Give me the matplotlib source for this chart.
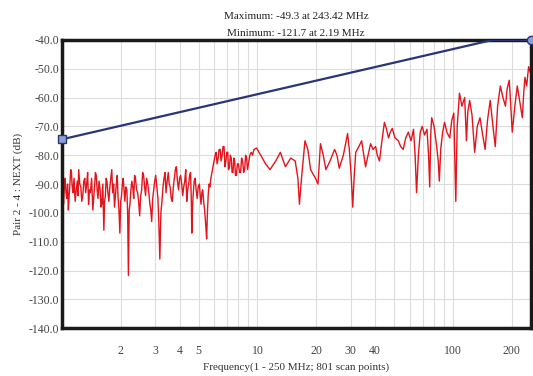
import numpy as np
import matplotlib.pyplot as plt
from matplotlib.ticker import FixedLocator, NullFormatter, NullLocator

plt.rcParams['font.family'] = ['Liberation Serif', 'DejaVu Serif']

# 측정값 (주파수 MHz, NEXT dB)
freq = [1.00, 1.01, 1.02, 1.03, 1.04, 1.05, 1.06, 1.07, 1.08, 1.09, 1.10, 1.11, 1.12, 1.13, 1.14,
        1.155, 1.17, 1.185, 1.20, 1.21, 1.22, 1.235, 1.25, 1.265, 1.28, 1.295, 1.31, 1.325, 1.34, 1.355,
        1.37, 1.385, 1.40, 1.42, 1.44, 1.455, 1.47, 1.485, 1.50, 1.515, 1.53, 1.55, 1.57, 1.585, 1.60,
        1.62, 1.64, 1.655, 1.67, 1.685, 1.70, 1.72, 1.74, 1.76, 1.78, 1.80, 1.82, 1.84, 1.86, 1.88,
        1.90, 1.92, 1.94, 1.96, 1.98, 2.00, 2.02, 2.04, 2.06, 2.08, 2.10, 2.125, 2.15, 2.17, 2.19,
        2.21, 2.23, 2.255, 2.28, 2.305, 2.33, 2.355, 2.38, 2.41, 2.44, 2.47, 2.50, 2.53, 2.56, 2.59,
        2.62, 2.65, 2.68, 2.715, 2.75, 2.785, 2.82, 2.85, 2.88, 2.915, 2.95, 2.985, 3.02, 3.06, 3.10,
        3.135, 3.17, 3.21, 3.25, 3.29, 3.33, 3.37, 3.41, 3.455, 3.50, 3.54, 3.58, 3.625, 3.67, 3.715,
        3.76, 3.805, 3.85, 3.90, 3.95, 4.00, 4.05, 4.10, 4.15, 4.20, 4.25, 4.30, 4.35, 4.40, 4.45,
        4.50, 4.55, 4.59, 4.62, 4.66, 4.70, 4.75, 4.80, 4.86, 4.92, 4.98, 5.05, 5.10, 5.15, 5.20,
        5.25, 5.31, 5.37, 5.44, 5.50, 5.55, 5.60, 5.66, 5.72, 5.78, 5.85, 5.92, 6.0, 6.08, 6.15,
        6.22, 6.3, 6.37, 6.45, 6.52, 6.6, 6.67, 6.75, 6.82, 6.9, 6.97, 7.05, 7.12, 7.2, 7.27,
        7.35, 7.42, 7.5, 7.57, 7.65, 7.72, 7.8, 7.9, 8.0, 8.1, 8.2, 8.3, 8.4, 8.5, 8.6,
        8.7, 8.8, 8.9, 9.0, 9.15, 9.3, 9.45, 9.6, 9.9, 10.2, 10.6,
        11.0, 11.6, 12.4, 13.1, 13.9, 14.8, 15.6, 16.1, 16.4, 16.8, 17.5, 18.1, 18.7, 19.8, 20.4,
        21.0, 21.7, 22.4, 23.5, 24.8, 25.5, 26.2, 27.5, 28.9, 29.5, 30.2, 30.7, 31.2, 31.8, 33.0,
        34.1, 35.0, 35.7, 36.8, 37.9, 39.0, 40.2, 41.0, 42.1, 43.3, 44.6, 45.7, 46.8, 47.8, 48.9,
        50.5, 52.5, 54.0, 55.6, 57.3, 59.1, 61.0, 62.8, 64.0, 65.1, 66.5, 68.0, 69.6, 71.5, 73.6,
        75.0, 76.0, 77.0, 77.8, 80.0, 82.5, 84.0, 85.1, 86.5, 88.5, 90.5, 93.0, 96.2, 98.5, 100.9,
        102.0, 103.3, 105.0, 107.9, 111.0, 114.7, 116.0, 117.1, 119.0, 121.6, 125.0, 129.0, 133.0, 137.4, 141.0,
        145.9, 150.0, 154.9, 160.0, 164.4, 169.0, 174.5, 180.0, 185.4, 189.0, 193.8, 197.0, 200.8, 207.0, 213.1,
        220.0, 226.1, 230.0, 233.3, 238.0, 243.42, 250.0]
next_db = [-92, -88, -97, -91, -88, -93, -95, -90, -99, -94, -90, -85, -86, -91, -93,
           -88, -96, -92, -89, -94, -85, -90, -91, -96, -94, -89, -88, -93, -90, -86,
           -97, -92, -93, -88, -99, -95, -91, -86, -87, -92, -95, -89, -92, -98, -97,
           -90, -106, -96, -94, -88, -89, -93, -96, -91, -88, -85, -93, -90, -98, -94,
           -90, -87, -95, -99, -107, -96, -94, -90, -88, -92, -96, -91, -92, -100, -121.7,
           -99, -97, -92, -89, -91, -95, -87, -88, -92, -93, -96, -101, -94, -92, -86,
           -87, -91, -94, -88, -90, -93, -97, -99, -103, -95, -92, -89, -87, -91, -95,
           -104, -116, -100, -96, -91, -88, -86, -93, -89, -86, -90, -91, -95, -96, -91,
           -88, -85, -84, -89, -92, -88, -87, -90, -94, -91, -89, -85, -96, -92, -90,
           -87, -86, -95, -107, -98, -93, -89, -88, -92, -95, -91, -90, -94, -97, -93,
           -92, -96, -99, -104, -109, -100, -94, -90, -91, -88, -86, -84, -82, -80, -79,
           -83, -81, -78, -78, -82, -80, -77, -77, -84, -82, -79, -79, -85, -84, -80,
           -81, -86, -86, -81, -82, -87, -87, -83, -83, -86, -86, -81, -82, -86, -85,
           -80, -81, -85, -83, -80, -79, -80, -78, -77.5, -79, -81,
           -83, -85, -82, -79, -84, -81, -82, -88, -97, -88, -75, -78, -85, -88, -90,
           -76, -80, -85, -82, -78, -80, -84.5, -80, -72.5, -78, -88, -98, -88, -79, -77,
           -75, -80, -84, -80, -76, -78, -77, -80, -82, -75, -68.6, -71, -74, -72, -70.7,
           -74, -75, -77, -78, -74, -72, -75, -71, -80, -93, -80, -72, -70, -73, -71,
           -80, -91, -72, -67, -70, -77, -82, -89, -78, -72, -68.6, -72, -74, -68, -65.4,
           -80, -96, -70, -58.5, -63, -60, -68, -75, -65, -61, -66, -79, -70, -67, -72,
           -78, -68, -61, -70, -77, -63, -56, -60, -63, -57, -54, -62, -72, -63, -56,
           -62, -67, -58, -53, -56, -49.3, -52]

# 한계선
limit_freq = [1, 160, 250]
limit_db = [-74.5, -40, -40]

yticks = [-40, -50, -60, -70, -80, -90, -100, -110, -120, -130, -140]
xticks = [2, 3, 4, 5, 10, 20, 30, 40, 100, 200]
xgrid = [2, 3, 4, 5, 6, 7, 8, 9, 10, 20, 30, 40, 50, 60, 70, 80, 90, 100, 200]

fig = plt.figure(figsize=(5.33, 3.76), dpi=100)
ax = fig.add_axes([0.116, 0.127, 0.880, 0.767])

ax.set_xscale('log')
ax.set_xlim(1, 250)
ax.set_ylim(-140, -40)

for g in xgrid:
    ax.axvline(g, color='#dcdcdc', lw=0.8, zorder=0)
for g in yticks:
    ax.axhline(g, color='#dcdcdc', lw=0.8, zorder=0)

ax.plot(freq, next_db, color='#e2141c', lw=1.0, zorder=2)
ax.plot(limit_freq, limit_db, color='#2a3578', lw=1.6, zorder=3)
ax.plot(limit_freq[0], limit_db[0], marker='s', ms=6, mfc='#8aa0d8', mec='#2a3578', mew=1, clip_on=False, zorder=4)
ax.plot(limit_freq[-1], limit_db[-1], marker='o', ms=6, mfc='#8aa0d8', mec='#2a3578', mew=1, clip_on=False, zorder=4)

ax.xaxis.set_major_locator(FixedLocator(xticks))
ax.xaxis.set_minor_locator(NullLocator())
ax.xaxis.set_minor_formatter(NullFormatter())
ax.set_xticklabels([str(t) for t in xticks])
ax.set_yticks(yticks)
ax.set_yticklabels([f"{t:.1f}" for t in yticks])
ax.tick_params(length=0, labelsize=8.5, colors='#444444')
ax.tick_params(axis='x', pad=12)
ax.tick_params(axis='y', pad=2)

for s in ax.spines.values():
    s.set_linewidth(2.5)
    s.set_color('#1a1a1a')

ax.set_xlabel('Frequency(1 - 250 MHz; 801 scan points)', fontsize=8, color='#333333', labelpad=4)
ax.set_ylabel('Pair 2 - 4 : NEXT (dB)', fontsize=8, color='#333333', labelpad=4)

fig.text(0.555, 0.955, 'Maximum: -49.3 at 243.42 MHz', ha='center', va='center', fontsize=8, color='#222222')
fig.text(0.555, 0.912, 'Minimum: -121.7 at 2.19 MHz', ha='center', va='center', fontsize=8, color='#222222')

fig.savefig('out.png', dpi=100)
